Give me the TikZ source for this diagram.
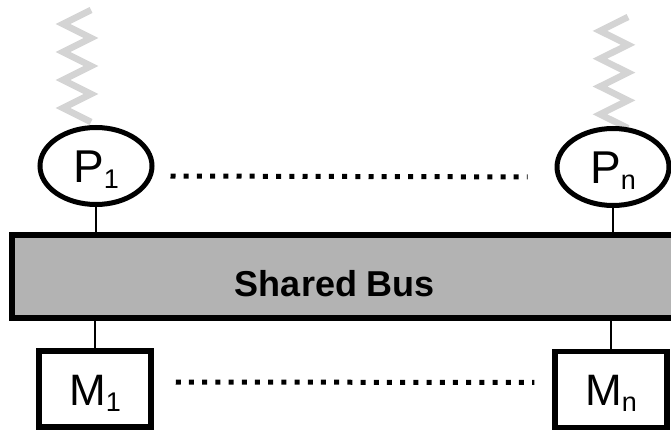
\documentclass[tikz,border=0pt]{standalone}
\usepackage{fontspec}
\setmainfont{Liberation Sans}
\usetikzlibrary{shapes.geometric}
\definecolor{busgray}{HTML}{B3B3B3}
\definecolor{wavegray}{HTML}{D4D4D4}
% letter with a lowered index, e.g. P_1
\newcommand{\unitlabel}[2]{#1\raisebox{-6pt}{\fontsize{27}{27}\selectfont #2}}

\begin{document}
\begin{tikzpicture}[x=1pt,y=-1pt,
  proc/.style={ellipse, draw, line width=5pt, minimum width=112pt,
    minimum height=77pt, inner sep=0pt, text height=33pt, text depth=0pt,
    font=\fontsize{46}{46}\selectfont},
  mem/.style={rectangle, draw, line width=5.5pt, minimum width=112pt,
    minimum height=76pt, inner sep=0pt, text height=32pt, text depth=0pt,
    font=\fontsize{44}{44}\selectfont},
  busbox/.style={rectangle, draw, fill=busgray, line width=5.5pt,
    inner sep=0pt},
  buslabel/.style={font=\fontsize{36}{36}\selectfont\bfseries, inner sep=0pt},
  link/.style={line width=2pt},
  dotrow/.style={line width=5pt, dash pattern=on 5pt off 8.2pt},
  wave/.style={wavegray, line width=6.5pt}
]
\useasboundingbox (0,0) rectangle (671,430);
\clip (0,0) rectangle (671,430);

% incoming signals
\draw[wave] (91,10) -- (63,24) -- (91,38) -- (63,52) -- (91,66)
  -- (63,80) -- (91,94) -- (63,108) -- (91,122);
\draw[wave] (628,17) -- (600,30.9) -- (628,44.8) -- (600,58.7) -- (628,72.6)
  -- (600,86.5) -- (628,100.4) -- (600,114.3) -- (628,128.2);

% processors
\node[proc] (p1) at (96,166) {\unitlabel{P}{1}};
\node[proc] (pn) at (613,167) {\unitlabel{P}{n}};

% bus
\node[busbox, minimum width=678pt, minimum height=83pt] (bus) at (351,276.5) {};
\node[buslabel] (buslab) at (335,283.5) {Shared Bus};

% memories
\node[mem] (m1) at (95,389) {\unitlabel{M}{1}};
\node[mem] (mn) at (611,389.5) {\unitlabel{M}{n}};

% attachments to the bus
\draw[link] (p1.south) -- (p1.south |- bus.north);
\draw[link] (pn.south) -- (pn.south |- bus.north);
\draw[link] (m1.north) -- (m1.north |- bus.south);
\draw[link] (mn.north) -- (mn.north |- bus.south);

% ellipsis rows
\draw[dotrow, shorten <=16pt, shorten >=27pt]
  ([yshift=-10pt]p1.east) -- ([yshift=-10pt]pn.west);
\draw[dotrow, shorten <=22pt, shorten >=18pt]
  ([yshift=7pt]m1.east) -- ([yshift=7pt]mn.west);
\end{tikzpicture}
\end{document}
